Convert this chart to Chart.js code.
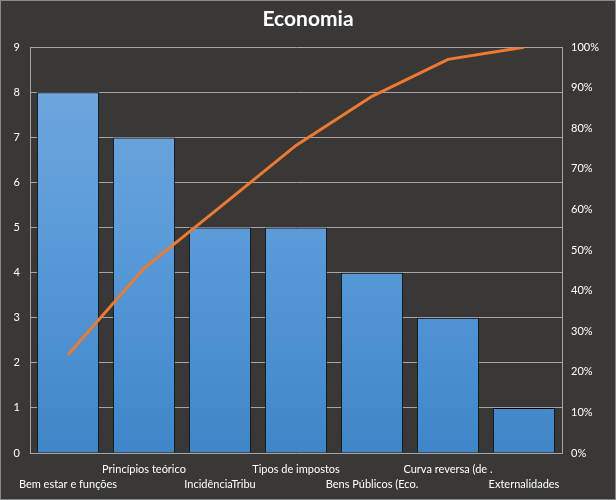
<!DOCTYPE html>
<html><head><meta charset="utf-8">
<script src="https://cdn.jsdelivr.net/npm/chart.js@4/dist/chart.umd.min.js"></script>
<style>
html,body{margin:0;padding:0;background:#3a3836;}
#wrap{position:absolute;left:0;top:0;width:614px;height:498px;border:1px solid #8a8a8a;background:#3a3836;}
canvas{display:block;}
</style></head>
<body>
<div id="wrap"><canvas id="c" width="614" height="498"></canvas></div>
<script>
const categories = ['Bem estar e funções','Princípios teórico','IncidênciaTribu','Tipos de impostos','Bens Públicos (Eco.','Curva reversa (de .','Externalidades'];
const counts = [8, 7, 5, 5, 4, 3, 1];
const cumulativePct = [24.2, 45.5, 60.6, 75.8, 87.9, 97.0, 100];
const leftTicks = [0,1,2,3,4,5,6,7,8,9];
const rightTicks = [0,10,20,30,40,50,60,70,80,90,100];

const labels = categories.map((c,i) => i % 2 === 0 ? ['', c] : [c, '']);
const FONT = 'Lato, "Open Sans", sans-serif';

const ctx = document.getElementById('c').getContext('2d');
function barGrad(context){
  const ch = context.chart; const a = ch.chartArea;
  if(!a) return '#5b9bd5';
  const g = ch.ctx.createLinearGradient(0, a.top, 0, a.bottom);
  g.addColorStop(0, '#74a9de');
  g.addColorStop(0.5, '#589ad8');
  g.addColorStop(1, '#3f86c8');
  return g;
}
new Chart(ctx, {
  data: {
    labels: labels,
    datasets: [
      { type:'line', data: cumulativePct, yAxisID:'y2', borderColor:'#ef7a2f', borderWidth:3,
        pointRadius:0, tension:0, order:0 },
      { type:'bar', data: counts, yAxisID:'y', backgroundColor: barGrad, borderColor:'#000', borderWidth:1,
        categoryPercentage:1, barPercentage:0.82, order:1 }
    ]
  },
  options: {
    responsive:false, animation:false,
    layout:{ padding:{ left:0, right:0, top:0, bottom:0 } },
    plugins:{
      legend:{ display:false }, tooltip:{ enabled:false },
      title:{ display:true, text:'Economia', color:'#ffffff',
        font:{ family:FONT, size:21, weight:'bold' }, padding:{ top:6, bottom:15 } }
    },
    scales:{
      x:{ grid:{ display:false, drawTicks:false }, border:{ display:false },
        ticks:{ color:'#ffffff', font:{ family:FONT, size:11, lineHeight:1.45 }, maxRotation:0, autoSkip:false, padding:8 },
        afterFit(s){ s.height = 46; } },
      y:{ position:'left', min:0, max:9,
        afterBuildTicks(s){ s.ticks = leftTicks.map(v=>({value:v})); },
        grid:{ color:'#a6a6a6', lineWidth:1, drawTicks:false },
        border:{ display:true, color:'#a6a6a6' },
        ticks:{ color:'#ffffff', font:{ family:FONT, size:11 }, padding:10 },
        afterFit(s){ s.width = 29; } },
      y2:{ position:'right', min:0, max:100,
        afterBuildTicks(s){ s.ticks = rightTicks.map(v=>({value:v})); },
        grid:{ display:false, drawTicks:false },
        border:{ display:true, color:'#a6a6a6' },
        ticks:{ color:'#ffffff', font:{ family:FONT, size:11 }, padding:9, callback:v=>v+'%' },
        afterFit(s){ s.width = 53; } }
    }
  }
});
</script>
</body></html>
